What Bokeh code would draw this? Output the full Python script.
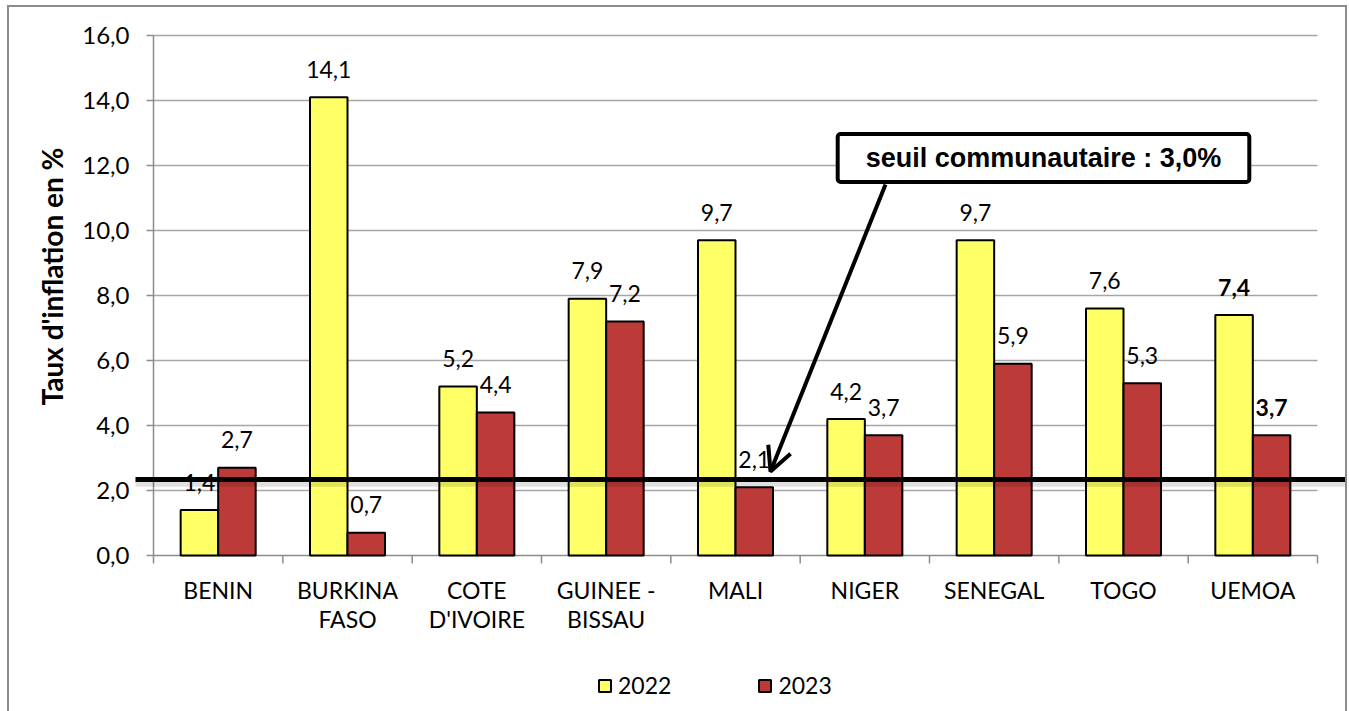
from bokeh.plotting import figure
from bokeh.models import (Range1d, LinearAxis, FixedTicker, Label, Arrow, OpenHead,
                          ColumnDataSource, Legend, LegendItem, InlineStyleSheet)
from bokeh.embed import file_html
from bokeh.resources import INLINE
from bokeh.core.properties import value, field

# ---------------- data ----------------
countries = ["BENIN", "BURKINA\nFASO", "COTE\nD'IVOIRE", "GUINEE -\nBISSAU", "MALI",
             "NIGER", "SENEGAL", "TOGO", "UEMOA"]
v2022 = [1.4, 14.1, 5.2, 7.9, 9.7, 4.2, 9.7, 7.6, 7.4]
v2023 = [2.7, 0.7, 4.4, 7.2, 2.1, 3.7, 5.9, 5.3, 3.7]
series_names = ["2022", "2023"]
y_ticks = [0, 2, 4, 6, 8, 10, 12, 14, 16]
y_tick_labels = ["0,0", "2,0", "4,0", "6,0", "8,0", "10,0", "12,0", "14,0", "16,0"]
y_title = "Taux d'inflation en %"
callout_text = "seuil communautaire : 3,0%"
threshold_line_value = 2.34
bold_category = "UEMOA"

# ---------------- layout / styling ----------------
W, H = 1349, 711
PL, PT, PR = 153, 35, 1317       # plot-area edges (page px)
AXIS_Y = 555                     # page px of value 0
FONT = "Lato"
YELLOW = "#FFFF66"
RED = "#BC3A38"
GRID = "#A6A6A6"
AXIS = "#8C8C8C"

n = len(countries)
YMAX = 16
PXU = (AXIS_Y - PT) / YMAX                 # pixels per value unit
centers = [i + 0.5 for i in range(n)]
boundaries = list(range(n + 1))
bw = 0.29

def px_x(px):
    return (px - PL) / (PR - PL) * n

def px_y(py):
    return (AXIS_Y - py) / PXU

def fmt(v):
    return f"{v:.1f}".replace(".", ",")

styles = ["bold" if c == bold_category else "normal" for c in countries]

src22 = ColumnDataSource(dict(x=[c - bw / 2 for c in centers], top=v2022,
                              lab=[fmt(v) for v in v2022], style=styles))
src23 = ColumnDataSource(dict(x=[c + bw / 2 for c in centers], top=v2023,
                              lab=[fmt(v) for v in v2023], style=styles))

# the frame covers the whole canvas; the value/category area is placed through the ranges
p = figure(width=W, height=H, output_backend="svg", toolbar_location=None,
           x_range=Range1d(px_x(0), px_x(W)), y_range=Range1d(px_y(H), px_y(0)),
           min_border_left=0, min_border_right=0, min_border_top=0, min_border_bottom=0,
           x_axis_type=None, y_axis_type=None)
p.outline_line_color = None
p.background_fill_color = "white"
p.border_fill_color = "white"

# outer chart border (left, top, right) drawn with CSS over the canvas
p.stylesheets = [InlineStyleSheet(css="""
:host::after {
  content: ""; position: absolute; left: 7px; top: 5px; width: 1340px; height: 706px;
  border: 2px solid #8c8c8c; border-bottom: none; box-sizing: border-box;
  pointer-events: none; z-index: 100;
}
""")]

# horizontal gridlines and category axis line
grid_y = [t for t in y_ticks if t > 0]
p.segment(x0=[0] * len(grid_y), y0=grid_y, x1=[n] * len(grid_y), y1=grid_y,
          line_color=GRID, line_width=1.3)
p.segment(x0=[0], y0=[0], x1=[n], y1=[0], line_color=AXIS, line_width=1.5)

# y axis (real axis, fixed at the left edge of the value area)
yaxis = LinearAxis(ticker=FixedTicker(ticks=y_ticks), bounds=(0, YMAX), fixed_location=0)
yaxis.major_label_overrides = {t: l for t, l in zip(y_ticks, y_tick_labels)}
yaxis.axis_line_color = AXIS
yaxis.axis_line_width = 1.5
yaxis.major_tick_line_color = AXIS
yaxis.major_tick_line_width = 1.5
yaxis.major_tick_out = 7
yaxis.major_tick_in = 0
yaxis.minor_tick_line_color = None
yaxis.major_label_standoff = 17
yaxis.major_label_text_font = FONT
yaxis.major_label_text_font_size = "24px"
yaxis.major_label_text_color = "black"
p.add_layout(yaxis, "left")

# y axis title
p.add_layout(Label(x=px_x(51), y=px_y(276), text=y_title, angle=90, angle_units="deg",
                   text_font=FONT, text_font_style="bold", text_font_size="28px",
                   text_color="black", text_align="center", text_baseline="middle"))

# category boundary ticks and labels
p.segment(x0=boundaries, y0=[0] * len(boundaries), x1=boundaries,
          y1=[-8 / PXU] * len(boundaries), line_color=AXIS, line_width=1.5)
p.text(x=centers, y=[0] * n, text=countries, text_font=value(FONT), text_font_size="23px",
       text_align="center", text_baseline="top", y_offset=20, text_line_height=1.07,
       text_color="black")

# bars
r22 = p.vbar(x="x", top="top", width=bw, bottom=0, source=src22, fill_color=YELLOW,
             line_color="black", line_width=2)
r23 = p.vbar(x="x", top="top", width=bw, bottom=0, source=src23, fill_color=RED,
             line_color="black", line_width=2)

# value labels
for s in (src22, src23):
    p.text(x="x", y="top", text="lab", source=s, text_font=value(FONT),
           text_font_size="23px", text_font_style=field("style"), text_align="center",
           text_baseline="alphabetic", y_offset=-28, text_color="black")

# threshold line with shadow
p.add_layout(Arrow(end=None, x_start=px_x(135), x_end=px_x(1346),
                   y_start=threshold_line_value - 0.12, y_end=threshold_line_value - 0.12,
                   line_color="black", line_alpha=0.12, line_width=7))
p.add_layout(Arrow(end=None, x_start=px_x(135), x_end=px_x(1346),
                   y_start=threshold_line_value, y_end=threshold_line_value,
                   line_color="black", line_width=5))

# callout arrow and box
p.add_layout(Arrow(end=OpenHead(size=24, line_width=4, line_color="black"),
                   x_start=px_x(885), y_start=px_y(184), x_end=px_x(770), y_end=px_y(471),
                   line_color="black", line_width=4))
p.add_layout(Label(x=px_x(1043), y=px_y(157.5), text=callout_text, text_font="Liberation Sans",
                   text_font_style="bold", text_font_size="27px", text_color="black",
                   text_align="center", text_baseline="middle",
                   background_fill_color="white", border_line_color="black",
                   border_line_width=4, padding=dict(left=28, right=28, top=9, bottom=9),
                   border_radius=3))

# legend below the category labels
legend = Legend(items=[LegendItem(label=series_names[0], renderers=[r22]),
                       LegendItem(label=series_names[1], renderers=[r23])],
                orientation="horizontal", location=(597, 12), margin=0, padding=0,
                border_line_color=None, background_fill_alpha=0, spacing=86,
                glyph_width=15, glyph_height=15, label_standoff=6,
                label_text_font=FONT, label_text_font_size="23px", label_text_color="black")
p.add_layout(legend, "center")

open("out.html", "w").write(file_html(p, INLINE))
